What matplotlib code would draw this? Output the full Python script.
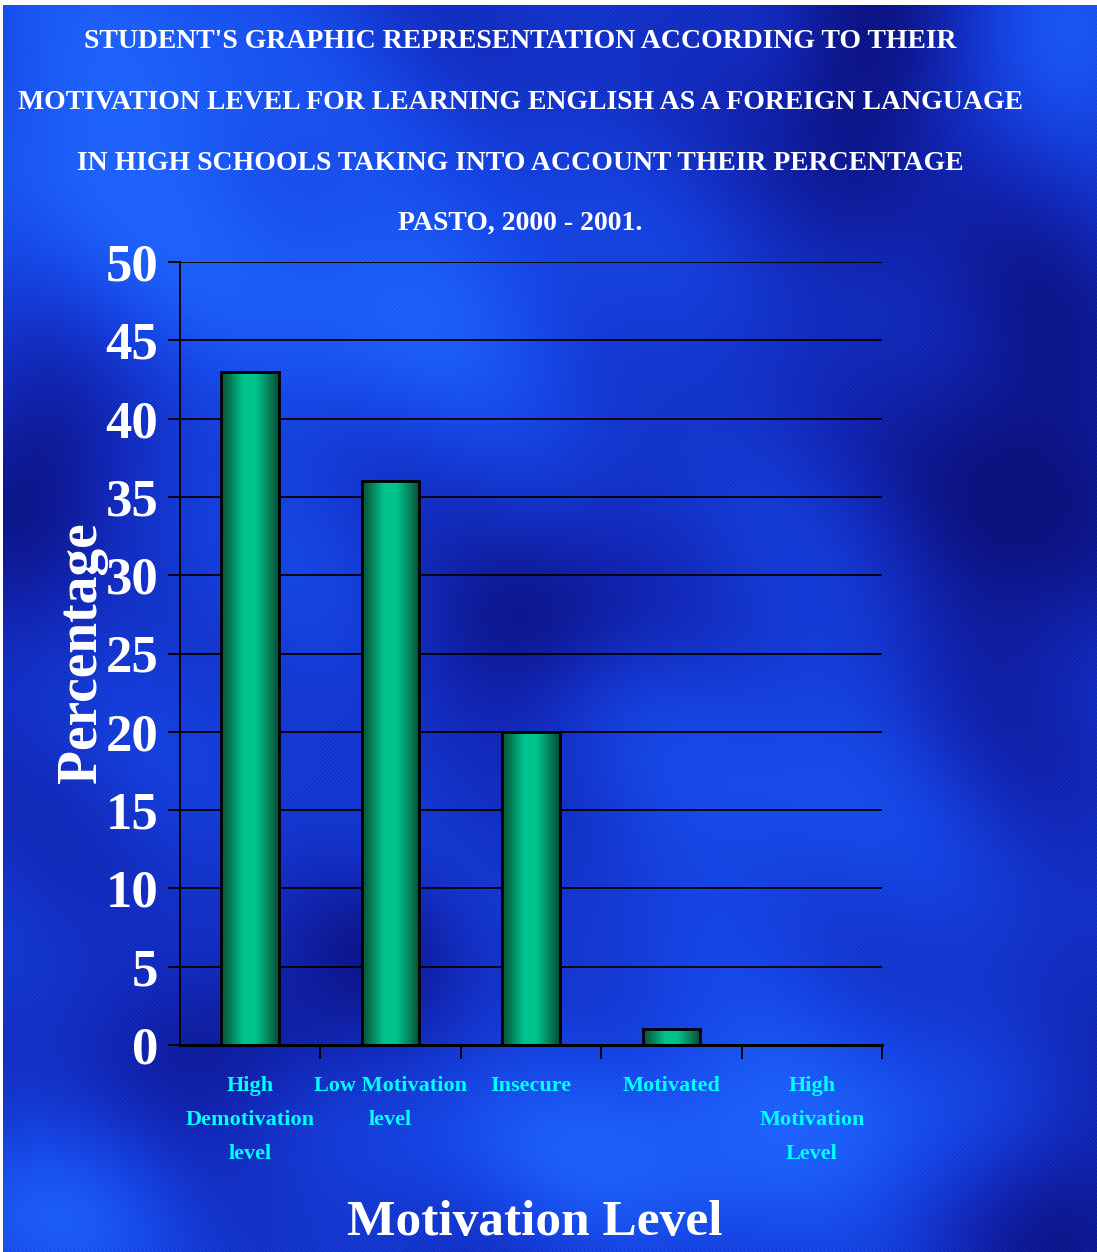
import matplotlib.pyplot as plt
import numpy as np
from matplotlib.colors import LinearSegmentedColormap

plt.rcParams["font.family"] = ["Liberation Serif", "DejaVu Serif"]
plt.rcParams["font.weight"] = "bold"

# survey results
categories = ["High\nDemotivation\nlevel", "Low Motivation\nlevel", "Insecure",
              "Motivated", "High\nMotivation\nLevel"]
percentages = [43, 36, 20, 1, 0]
y_ticks = [0, 5, 10, 15, 20, 25, 30, 35, 40, 45, 50]
title_lines = [
    "STUDENT'S GRAPHIC REPRESENTATION ACCORDING TO THEIR",
    "MOTIVATION LEVEL FOR LEARNING ENGLISH AS A FOREIGN LANGUAGE",
    "IN HIGH SCHOOLS TAKING INTO ACCOUNT THEIR PERCENTAGE",
    "PASTO, 2000 - 2001.",
]

W, H = 1097, 1252
fig = plt.figure(figsize=(W / 100, H / 100), dpi=100, facecolor="white")

# --- streaky blue backdrop -------------------------------------------------
bg = fig.add_axes([3 / W, 0, 1 - 3 / W, 1 - 5 / H])
yy, xx = np.mgrid[0:H, 0:W].astype(float)
shade = np.full((H, W), 0.45)
blobs = [
    (120, 110, 230, 220, 0.45), (420, 300, 220, 140, 0.35),
    (780, 800, 200, 200, 0.25), (720, 1140, 320, 110, 0.45),
    (30, 1230, 130, 100, 0.35), (1070, 30, 110, 110, 0.35),
    (250, 640, 150, 200, 0.15),
    (860, 60, 90, 160, -0.35), (30, 470, 90, 130, -0.35),
    (530, 620, 120, 90, -0.3), (1020, 480, 130, 260, -0.35),
    (1070, 1200, 110, 130, -0.35), (240, 1040, 120, 80, -0.25),
    (380, 940, 90, 80, -0.2),
]
for cx, cy, sx, sy, a in blobs:
    shade += a * np.exp(-(((xx - cx) / sx) ** 2 + ((yy - cy) / sy) ** 2))
shade += 0.07 * np.sin((xx - yy) / 55.0) * np.cos((xx + yy) / 140.0)
shade += 0.08 * np.sin((xx + yy) * np.pi / 2.0)
bg_cmap = LinearSegmentedColormap.from_list(
    "backdrop", ["#0a0c6e", "#1226b4", "#1646e6", "#2068ff"])
bg.imshow(shade, cmap=bg_cmap, vmin=0.05, vmax=0.95, aspect="auto",
          interpolation="nearest")
bg.axis("off")

# --- bar chart ---------------------------------------------------------------
ax = fig.add_axes([180 / W, 1 - 1045 / H, 702 / W, 783 / H])
ax.patch.set_alpha(0)
x = np.arange(len(categories)) + 0.5
bars = ax.bar(x, percentages, width=0.41, color="none", edgecolor="black",
              linewidth=2, zorder=3)

bar_cmap = LinearSegmentedColormap.from_list(
    "cylinder", [(0, "#04553a"), (0.12, "#06704c"), (0.38, "#00c48e"),
                 (0.6, "#00c28d"), (0.85, "#077a55"), (1, "#034a33")])
grad = np.linspace(0, 1, 256).reshape(1, -1)
for b in bars:
    if b.get_height() <= 0:
        continue
    im = ax.imshow(grad, cmap=bar_cmap, aspect="auto", zorder=2.5,
                   extent=(b.get_x(), b.get_x() + b.get_width(), 0, b.get_height()))
    im.set_clip_path(b)

ax.set_xlim(0, len(categories))
ax.set_ylim(0, 50)
ax.set_yticks(y_ticks)
ax.set_axisbelow(True)
ax.yaxis.grid(True, color="black", linewidth=1.3)
for side in ("top", "right"):
    ax.spines[side].set_visible(False)
ax.spines["left"].set_linewidth(1.3)
ax.spines["bottom"].set_linewidth(2.2)

ax.tick_params(axis="y", length=8.6, width=1.3, color="black", pad=7,
               labelsize=38, labelcolor="white")
ax.set_xticks(np.arange(1, len(categories) + 1))
ax.set_xticklabels([])
ax.tick_params(axis="x", which="major", length=10, width=1.3, color="black")
ax.set_xticks(x, minor=True)
ax.set_xticklabels(categories, minor=True, color="#00ffff", fontsize=16,
                   linespacing=1.95, va="top")
ax.tick_params(axis="x", which="minor", length=0, pad=22)

# --- texts -------------------------------------------------------------------
for i, line in enumerate(title_lines):
    fig.text(520 / W, 1 - (42 + 60.5 * i) / H, line, ha="center", va="center",
             color="white", fontsize=20, fontweight="bold")

fig.text(82 / W, 1 - 653 / H, "Percentage", rotation=90, ha="center",
         va="center", color="white", fontsize=40, fontweight="bold")
fig.text(535 / W, 1 - 1200 / H, "Motivation Level", ha="center", va="top",
         color="white", fontsize=37, fontweight="bold")

fig.savefig("out.png", dpi=100, facecolor=fig.get_facecolor())
